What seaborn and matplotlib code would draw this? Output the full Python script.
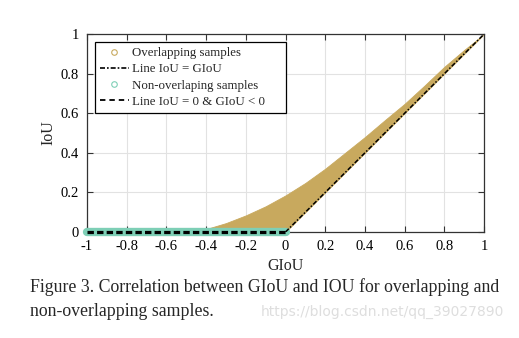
import numpy as np
import pandas as pd
import matplotlib
matplotlib.use("Agg")
import matplotlib.pyplot as plt
import seaborn as sns
from matplotlib.lines import Line2D

# ---- data ----
giou_band = [-0.46, -0.43, -0.4, -0.3, -0.2, -0.1, 0.0, 0.1, 0.2, 0.3, 0.4, 0.5, 0.6, 0.7, 0.8, 0.9, 1.0]
iou_upper = [0.0, 0.006, 0.015, 0.045, 0.084, 0.13, 0.185, 0.248, 0.32, 0.40, 0.48, 0.565, 0.648, 0.74, 0.835, 0.92, 1.0]
iou_lower = [0.0, 0.0, 0.0, 0.0, 0.0, 0.0, 0.0, 0.1, 0.2, 0.3, 0.4, 0.5, 0.6, 0.7, 0.8, 0.9, 1.0]
line_eq_x = [0.0, 1.0]
line_eq_y = [0.0, 1.0]
nonover_x = [-1.0, 0.0]
nonover_y = [0.0, 0.0]
xticks = [-1, -0.8, -0.6, -0.4, -0.2, 0, 0.2, 0.4, 0.6, 0.8, 1]
yticks = [0, 0.2, 0.4, 0.6, 0.8, 1]
xtick_labels = ["-1", "-0.8", "-0.6", "-0.4", "-0.2", "0", "0.2", "0.4", "0.6", "0.8", "1"]
ytick_labels = ["0", "0.2", "0.4", "0.6", "0.8", "1"]
labels = ["Overlapping samples", "Line IoU = GIoU", "Non-overlaping samples", "Line IoU = 0 & GIoU < 0"]
caption_lines = ["Figure 3. Correlation between GIoU and IOU for overlapping and",
                 "non-overlapping samples."]
watermark = "https://blog.csdn.net/qq_39027890"

sns.set_theme(style="whitegrid")
plt.rcParams["font.family"] = ["Liberation Serif", "DejaVu Serif"]
plt.rcParams["axes.unicode_minus"] = False

TAN = "#c8a95e"
TEAL = "#7ecfb6"

fig = plt.figure(figsize=(5.19, 3.38), dpi=100)
ax = fig.add_axes([0.1676, 0.3136, 0.7650, 0.5854])
ax.set_facecolor("white")

band = pd.DataFrame({"GIoU": giou_band, "upper": iou_upper, "lower": iou_lower})
ax.fill_between(band["GIoU"], band["lower"], band["upper"], color=TAN, lw=0.6,
                edgecolor=TAN, zorder=2)

nonover = pd.DataFrame({"GIoU": nonover_x, "IoU": nonover_y})
sns.lineplot(data=nonover, x="GIoU", y="IoU", ax=ax, color=TEAL, lw=6,
             solid_capstyle="round", clip_on=False, zorder=3)
sns.lineplot(data=nonover, x="GIoU", y="IoU", ax=ax, color="black", lw=2.3,
             linestyle=(0, (2, 1)), clip_on=False, zorder=4)
eq = pd.DataFrame({"GIoU": line_eq_x, "IoU": line_eq_y})
sns.lineplot(data=eq, x="GIoU", y="IoU", ax=ax, color="black", lw=1.1,
             linestyle=(0, (3, 1.2, 1, 1.2)), zorder=4)

ax.set_xlim(-1, 1)
ax.set_ylim(0, 1)
ax.set_xticks(xticks)
ax.set_xticklabels(xtick_labels)
ax.set_yticks(yticks)
ax.set_yticklabels(ytick_labels)
ax.grid(True, color="#e2e2e2", lw=0.8)
ax.tick_params(direction="in", length=4, width=0.8, colors="#333333",
               labelcolor="black", labelsize=10.5, top=True, right=True,
               bottom=True, left=True, pad=6)
for s in ax.spines.values():
    s.set_visible(True)
    s.set_color("#333333")
    s.set_linewidth(0.9)
ax.set_xlabel("GIoU", fontsize=11.5, labelpad=3)
ax.set_ylabel("IoU", fontsize=11.5, labelpad=3)

handles = [
    Line2D([], [], marker="o", ls="none", mfc="none", mec=TAN, ms=4, mew=0.8),
    Line2D([], [], color="black", lw=1.2, ls=(0, (3, 1.2, 1, 1.2))),
    Line2D([], [], marker="o", ls="none", mfc="none", mec=TEAL, ms=4, mew=0.8),
    Line2D([], [], color="black", lw=1.3, ls=(0, (3, 2.2))),
]
leg = ax.legend(handles, labels, loc="upper left", mode="expand",
                bbox_to_anchor=(0.02, 0.0, 0.48, 0.96),
                fontsize=9.3, frameon=True, fancybox=False, framealpha=1,
                edgecolor="black", handlelength=2.2, handletextpad=0.3,
                labelspacing=0.32, borderpad=0.4, borderaxespad=0.0)
leg.get_frame().set_linewidth(0.9)

fig.text(0.058, 1 - 287 / 338, caption_lines[0], fontsize=12.8, ha="left", va="center")
fig.text(0.058, 1 - 311 / 338, caption_lines[1], fontsize=12.8, ha="left", va="center")
fig.text(0.972, 1 - 312 / 338, watermark, fontsize=10, ha="right", va="center",
         color="#dedede", family=["DejaVu Sans"])

fig.savefig("out.png", dpi=100, facecolor="white")
